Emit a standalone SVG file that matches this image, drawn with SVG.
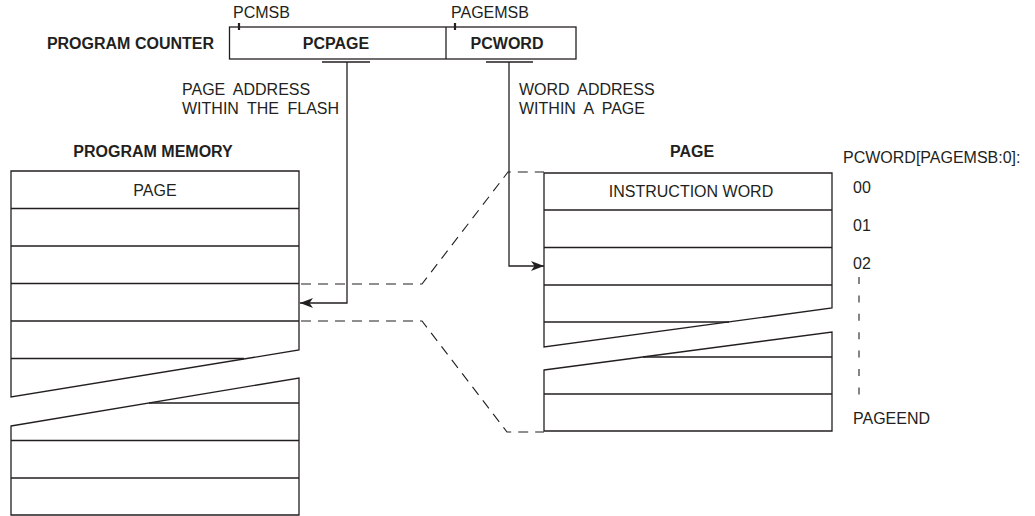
<svg xmlns="http://www.w3.org/2000/svg" width="1035" height="516" viewBox="0 0 1035 516">
<style>
  .ln{fill:none;stroke:#231f20;stroke-width:1.3}
  .shape{fill:#ffffff;stroke:#231f20;stroke-width:1.3;stroke-linejoin:miter}
  .dash{fill:none;stroke:#231f20;stroke-width:1.1;stroke-dasharray:10,7}
  .vdash{fill:none;stroke:#231f20;stroke-width:1.1;stroke-dasharray:7,11.4}
  .tick{stroke:#231f20;stroke-width:2.2}
  .t{font-family:"Liberation Sans",Arial,sans-serif;font-size:16px;fill:#231f20}
  .b{font-family:"Liberation Sans",Arial,sans-serif;font-size:16px;font-weight:bold;fill:#231f20}
  .ws{word-spacing:4px}
  .m{text-anchor:middle}
</style>
<defs>
  <marker id="arr" viewBox="0 0 13 10" refX="13" refY="5" markerWidth="13" markerHeight="10" markerUnits="userSpaceOnUse" orient="auto">
    <path d="M0,0 L13,5 L0,10 L3.5,5 Z" fill="#231f20"/>
  </marker>
</defs>
<rect width="1035" height="516" fill="#ffffff"/>

<g id="program-counter">
  <text class="b" x="214" y="49" text-anchor="end">PROGRAM COUNTER</text>
  <rect class="shape" x="229.5" y="27" width="346.5" height="32"/>
  <line class="ln" x1="446" y1="27" x2="446" y2="59"/>
  <line class="tick" x1="239" y1="23" x2="239" y2="30"/>
  <line class="tick" x1="455" y1="23" x2="455" y2="30"/>
  <text class="t" x="233" y="18">PCMSB</text>
  <text class="t" x="451" y="18">PAGEMSB</text>
  <text class="b m" x="336" y="49">PCPAGE</text>
  <text class="b m" x="507" y="49">PCWORD</text>
</g>

<g id="program-memory">
  <text class="b m" x="153" y="157">PROGRAM MEMORY</text>
  <path class="shape" d="M11,171 H299 V350 L11,397 Z"/>
  <path class="ln" d="M11,208.5 H299 M11,246 H299 M11,283.5 H299 M11,321 H299 M11,358.5 H244"/>
  <path class="shape" d="M11,426 L299,378 V515 H11 Z"/>
  <path class="ln" d="M149,403 H299 M11,440.5 H299 M11,478 H299"/>
  <text class="t m" x="155" y="196">PAGE</text>
</g>

<g id="page">
  <text class="b m" x="692" y="157">PAGE</text>
  <path class="shape" d="M544,173 H832 V308 L544,347 Z"/>
  <path class="ln" d="M544,210 H832 M544,247.5 H832 M544,285 H832 M544,322 H729"/>
  <path class="shape" d="M544,370 L832,332 V431 H544 Z"/>
  <path class="ln" d="M643,357 H832 M544,394 H832"/>
  <text class="t m" x="691" y="197">INSTRUCTION WORD</text>
</g>

<g id="word-index">
  <text class="t" x="843" y="163">PCWORD[PAGEMSB:0]:</text>
  <text class="t" x="853" y="193">00</text>
  <text class="t" x="853" y="231">01</text>
  <text class="t" x="853" y="269">02</text>
  <line class="vdash" x1="859" y1="277" x2="859" y2="404"/>
  <text class="t" x="853" y="424">PAGEEND</text>
</g>

<g id="labels">
  <text class="t ws" x="182" y="95">PAGE ADDRESS</text>
  <text class="t ws" x="182" y="114">WITHIN THE FLASH</text>
  <text class="t ws" x="519" y="95">WORD ADDRESS</text>
  <text class="t ws" x="519" y="114">WITHIN A PAGE</text>
</g>

<g id="connectors">
  <path class="ln" d="M322,62 H370 M486,62 H533"/>
  <path class="ln" d="M347,62 V303 H300" marker-end="url(#arr)"/>
  <path class="ln" d="M509,62 V266 H544" marker-end="url(#arr)"/>
  <path class="dash" d="M301,284 H422 L508,172 H544"/>
  <path class="dash" d="M301,321 H422 L507,432 H544"/>
</g>
</svg>
